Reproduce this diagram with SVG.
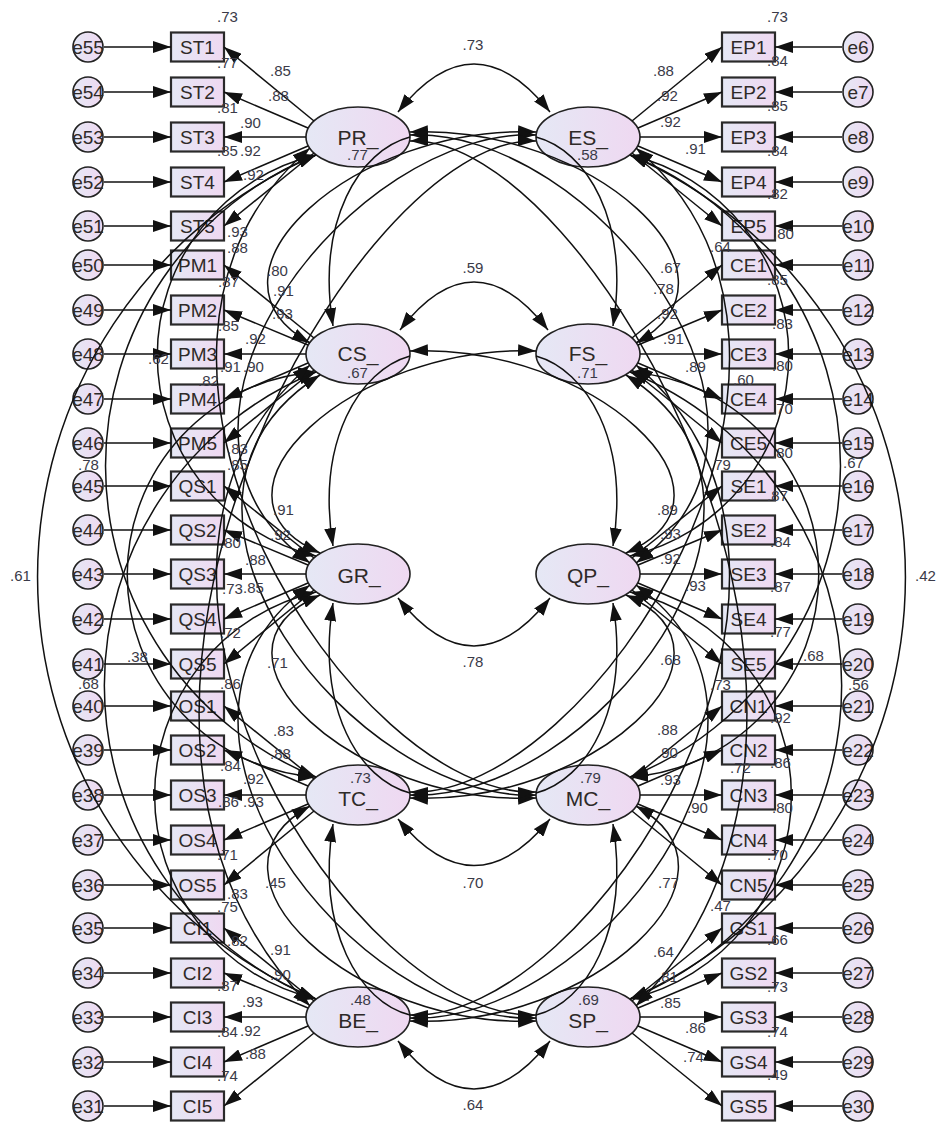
<svg xmlns="http://www.w3.org/2000/svg" width="940" height="1125" viewBox="0 0 940 1125">
<defs>
<linearGradient id="g" x1="0" y1="0" x2="1" y2="0"><stop offset="0" stop-color="#e5e8f5"/><stop offset="1" stop-color="#efd8f1"/></linearGradient>
<marker id="h" viewBox="0 0 18 12" refX="18" refY="6" markerWidth="18" markerHeight="12" markerUnits="userSpaceOnUse" orient="auto-start-reverse"><path d="M0,0L18,6L0,12z" fill="#111"/></marker>
<style>
.n{fill:url(#g);stroke:#222;stroke-width:1.6}
.b{fill:url(#g);stroke:#2a2a2a;stroke-width:2.2}
.t{font-family:"Liberation Sans",Arial,sans-serif;font-size:19px;fill:#2e2a28;text-anchor:middle}
.lt{font-size:21px}
.v{font-family:"Liberation Sans",Arial,sans-serif;font-size:15px;fill:#3a3a48}
.m{text-anchor:middle}
.c{fill:none;stroke:#111;stroke-width:1.5}
.s{marker-end:url(#h)}
.r{marker-start:url(#h)}
.d{marker-start:url(#h);marker-end:url(#h)}
</style>
</defs>
<rect width="940" height="1125" fill="#fff"/>

<g id="e55"><circle class="n" cx="88" cy="47" r="15"/><text class="t" x="88" y="54">e55</text></g>
<g id="e54"><circle class="n" cx="88" cy="92" r="15"/><text class="t" x="88" y="99">e54</text></g>
<g id="e53"><circle class="n" cx="88" cy="137" r="15"/><text class="t" x="88" y="144">e53</text></g>
<g id="e52"><circle class="n" cx="88" cy="182" r="15"/><text class="t" x="88" y="189">e52</text></g>
<g id="e51"><circle class="n" cx="88" cy="226" r="15"/><text class="t" x="88" y="233">e51</text></g>
<g id="e50"><circle class="n" cx="88" cy="265" r="15"/><text class="t" x="88" y="272">e50</text></g>
<g id="e49"><circle class="n" cx="88" cy="310" r="15"/><text class="t" x="88" y="317">e49</text></g>
<g id="e48"><circle class="n" cx="88" cy="354" r="15"/><text class="t" x="88" y="361">e48</text></g>
<g id="e47"><circle class="n" cx="88" cy="399" r="15"/><text class="t" x="88" y="406">e47</text></g>
<g id="e46"><circle class="n" cx="88" cy="443" r="15"/><text class="t" x="88" y="450">e46</text></g>
<g id="e45"><circle class="n" cx="88" cy="486" r="15"/><text class="t" x="88" y="493">e45</text></g>
<g id="e44"><circle class="n" cx="88" cy="530" r="15"/><text class="t" x="88" y="537">e44</text></g>
<g id="e43"><circle class="n" cx="88" cy="574" r="15"/><text class="t" x="88" y="581">e43</text></g>
<g id="e42"><circle class="n" cx="88" cy="619" r="15"/><text class="t" x="88" y="626">e42</text></g>
<g id="e41"><circle class="n" cx="88" cy="664" r="15"/><text class="t" x="88" y="671">e41</text></g>
<g id="e40"><circle class="n" cx="88" cy="706" r="15"/><text class="t" x="88" y="713">e40</text></g>
<g id="e39"><circle class="n" cx="88" cy="750" r="15"/><text class="t" x="88" y="757">e39</text></g>
<g id="e38"><circle class="n" cx="88" cy="795" r="15"/><text class="t" x="88" y="802">e38</text></g>
<g id="e37"><circle class="n" cx="88" cy="840" r="15"/><text class="t" x="88" y="847">e37</text></g>
<g id="e36"><circle class="n" cx="88" cy="885" r="15"/><text class="t" x="88" y="892">e36</text></g>
<g id="e35"><circle class="n" cx="88" cy="928" r="15"/><text class="t" x="88" y="935">e35</text></g>
<g id="e34"><circle class="n" cx="88" cy="973" r="15"/><text class="t" x="88" y="980">e34</text></g>
<g id="e33"><circle class="n" cx="88" cy="1017" r="15"/><text class="t" x="88" y="1024">e33</text></g>
<g id="e32"><circle class="n" cx="88" cy="1062" r="15"/><text class="t" x="88" y="1069">e32</text></g>
<g id="e31"><circle class="n" cx="88" cy="1106" r="15"/><text class="t" x="88" y="1113">e31</text></g>

<g id="e6"><circle class="n" cx="858" cy="47" r="15"/><text class="t" x="858" y="54">e6</text></g>
<g id="e7"><circle class="n" cx="858" cy="92" r="15"/><text class="t" x="858" y="99">e7</text></g>
<g id="e8"><circle class="n" cx="858" cy="137" r="15"/><text class="t" x="858" y="144">e8</text></g>
<g id="e9"><circle class="n" cx="858" cy="182" r="15"/><text class="t" x="858" y="189">e9</text></g>
<g id="e10"><circle class="n" cx="858" cy="226" r="15"/><text class="t" x="858" y="233">e10</text></g>
<g id="e11"><circle class="n" cx="858" cy="265" r="15"/><text class="t" x="858" y="272">e11</text></g>
<g id="e12"><circle class="n" cx="858" cy="310" r="15"/><text class="t" x="858" y="317">e12</text></g>
<g id="e13"><circle class="n" cx="858" cy="354" r="15"/><text class="t" x="858" y="361">e13</text></g>
<g id="e14"><circle class="n" cx="858" cy="399" r="15"/><text class="t" x="858" y="406">e14</text></g>
<g id="e15"><circle class="n" cx="858" cy="443" r="15"/><text class="t" x="858" y="450">e15</text></g>
<g id="e16"><circle class="n" cx="858" cy="486" r="15"/><text class="t" x="858" y="493">e16</text></g>
<g id="e17"><circle class="n" cx="858" cy="530" r="15"/><text class="t" x="858" y="537">e17</text></g>
<g id="e18"><circle class="n" cx="858" cy="574" r="15"/><text class="t" x="858" y="581">e18</text></g>
<g id="e19"><circle class="n" cx="858" cy="619" r="15"/><text class="t" x="858" y="626">e19</text></g>
<g id="e20"><circle class="n" cx="858" cy="664" r="15"/><text class="t" x="858" y="671">e20</text></g>
<g id="e21"><circle class="n" cx="858" cy="706" r="15"/><text class="t" x="858" y="713">e21</text></g>
<g id="e22"><circle class="n" cx="858" cy="750" r="15"/><text class="t" x="858" y="757">e22</text></g>
<g id="e23"><circle class="n" cx="858" cy="795" r="15"/><text class="t" x="858" y="802">e23</text></g>
<g id="e24"><circle class="n" cx="858" cy="840" r="15"/><text class="t" x="858" y="847">e24</text></g>
<g id="e25"><circle class="n" cx="858" cy="885" r="15"/><text class="t" x="858" y="892">e25</text></g>
<g id="e26"><circle class="n" cx="858" cy="928" r="15"/><text class="t" x="858" y="935">e26</text></g>
<g id="e27"><circle class="n" cx="858" cy="973" r="15"/><text class="t" x="858" y="980">e27</text></g>
<g id="e28"><circle class="n" cx="858" cy="1017" r="15"/><text class="t" x="858" y="1024">e28</text></g>
<g id="e29"><circle class="n" cx="858" cy="1062" r="15"/><text class="t" x="858" y="1069">e29</text></g>
<g id="e30"><circle class="n" cx="858" cy="1106" r="15"/><text class="t" x="858" y="1113">e30</text></g>

<g id="ST1"><rect class="b" x="171" y="32.5" width="53" height="29"/><text class="t" x="197.5" y="54">ST1</text></g>
<g id="ST2"><rect class="b" x="171" y="77.5" width="53" height="29"/><text class="t" x="197.5" y="99">ST2</text></g>
<g id="ST3"><rect class="b" x="171" y="122.5" width="53" height="29"/><text class="t" x="197.5" y="144">ST3</text></g>
<g id="ST4"><rect class="b" x="171" y="167.5" width="53" height="29"/><text class="t" x="197.5" y="189">ST4</text></g>
<g id="ST5"><rect class="b" x="171" y="211.5" width="53" height="29"/><text class="t" x="197.5" y="233">ST5</text></g>
<g id="PM1"><rect class="b" x="171" y="250.5" width="53" height="29"/><text class="t" x="197.5" y="272">PM1</text></g>
<g id="PM2"><rect class="b" x="171" y="295.5" width="53" height="29"/><text class="t" x="197.5" y="317">PM2</text></g>
<g id="PM3"><rect class="b" x="171" y="339.5" width="53" height="29"/><text class="t" x="197.5" y="361">PM3</text></g>
<g id="PM4"><rect class="b" x="171" y="384.5" width="53" height="29"/><text class="t" x="197.5" y="406">PM4</text></g>
<g id="PM5"><rect class="b" x="171" y="428.5" width="53" height="29"/><text class="t" x="197.5" y="450">PM5</text></g>
<g id="QS1"><rect class="b" x="171" y="471.5" width="53" height="29"/><text class="t" x="197.5" y="493">QS1</text></g>
<g id="QS2"><rect class="b" x="171" y="515.5" width="53" height="29"/><text class="t" x="197.5" y="537">QS2</text></g>
<g id="QS3"><rect class="b" x="171" y="559.5" width="53" height="29"/><text class="t" x="197.5" y="581">QS3</text></g>
<g id="QS4"><rect class="b" x="171" y="604.5" width="53" height="29"/><text class="t" x="197.5" y="626">QS4</text></g>
<g id="QS5"><rect class="b" x="171" y="649.5" width="53" height="29"/><text class="t" x="197.5" y="671">QS5</text></g>
<g id="OS1"><rect class="b" x="171" y="691.5" width="53" height="29"/><text class="t" x="197.5" y="713">OS1</text></g>
<g id="OS2"><rect class="b" x="171" y="735.5" width="53" height="29"/><text class="t" x="197.5" y="757">OS2</text></g>
<g id="OS3"><rect class="b" x="171" y="780.5" width="53" height="29"/><text class="t" x="197.5" y="802">OS3</text></g>
<g id="OS4"><rect class="b" x="171" y="825.5" width="53" height="29"/><text class="t" x="197.5" y="847">OS4</text></g>
<g id="OS5"><rect class="b" x="171" y="870.5" width="53" height="29"/><text class="t" x="197.5" y="892">OS5</text></g>
<g id="CI1"><rect class="b" x="171" y="913.5" width="53" height="29"/><text class="t" x="197.5" y="935">CI1</text></g>
<g id="CI2"><rect class="b" x="171" y="958.5" width="53" height="29"/><text class="t" x="197.5" y="980">CI2</text></g>
<g id="CI3"><rect class="b" x="171" y="1002.5" width="53" height="29"/><text class="t" x="197.5" y="1024">CI3</text></g>
<g id="CI4"><rect class="b" x="171" y="1047.5" width="53" height="29"/><text class="t" x="197.5" y="1069">CI4</text></g>
<g id="CI5"><rect class="b" x="171" y="1091.5" width="53" height="29"/><text class="t" x="197.5" y="1113">CI5</text></g>

<g id="EP1"><rect class="b" x="722" y="32.5" width="53" height="29"/><text class="t" x="748.5" y="54">EP1</text></g>
<g id="EP2"><rect class="b" x="722" y="77.5" width="53" height="29"/><text class="t" x="748.5" y="99">EP2</text></g>
<g id="EP3"><rect class="b" x="722" y="122.5" width="53" height="29"/><text class="t" x="748.5" y="144">EP3</text></g>
<g id="EP4"><rect class="b" x="722" y="167.5" width="53" height="29"/><text class="t" x="748.5" y="189">EP4</text></g>
<g id="EP5"><rect class="b" x="722" y="211.5" width="53" height="29"/><text class="t" x="748.5" y="233">EP5</text></g>
<g id="CE1"><rect class="b" x="722" y="250.5" width="53" height="29"/><text class="t" x="748.5" y="272">CE1</text></g>
<g id="CE2"><rect class="b" x="722" y="295.5" width="53" height="29"/><text class="t" x="748.5" y="317">CE2</text></g>
<g id="CE3"><rect class="b" x="722" y="339.5" width="53" height="29"/><text class="t" x="748.5" y="361">CE3</text></g>
<g id="CE4"><rect class="b" x="722" y="384.5" width="53" height="29"/><text class="t" x="748.5" y="406">CE4</text></g>
<g id="CE5"><rect class="b" x="722" y="428.5" width="53" height="29"/><text class="t" x="748.5" y="450">CE5</text></g>
<g id="SE1"><rect class="b" x="722" y="471.5" width="53" height="29"/><text class="t" x="748.5" y="493">SE1</text></g>
<g id="SE2"><rect class="b" x="722" y="515.5" width="53" height="29"/><text class="t" x="748.5" y="537">SE2</text></g>
<g id="SE3"><rect class="b" x="722" y="559.5" width="53" height="29"/><text class="t" x="748.5" y="581">SE3</text></g>
<g id="SE4"><rect class="b" x="722" y="604.5" width="53" height="29"/><text class="t" x="748.5" y="626">SE4</text></g>
<g id="SE5"><rect class="b" x="722" y="649.5" width="53" height="29"/><text class="t" x="748.5" y="671">SE5</text></g>
<g id="CN1"><rect class="b" x="722" y="691.5" width="53" height="29"/><text class="t" x="748.5" y="713">CN1</text></g>
<g id="CN2"><rect class="b" x="722" y="735.5" width="53" height="29"/><text class="t" x="748.5" y="757">CN2</text></g>
<g id="CN3"><rect class="b" x="722" y="780.5" width="53" height="29"/><text class="t" x="748.5" y="802">CN3</text></g>
<g id="CN4"><rect class="b" x="722" y="825.5" width="53" height="29"/><text class="t" x="748.5" y="847">CN4</text></g>
<g id="CN5"><rect class="b" x="722" y="870.5" width="53" height="29"/><text class="t" x="748.5" y="892">CN5</text></g>
<g id="GS1"><rect class="b" x="722" y="913.5" width="53" height="29"/><text class="t" x="748.5" y="935">GS1</text></g>
<g id="GS2"><rect class="b" x="722" y="958.5" width="53" height="29"/><text class="t" x="748.5" y="980">GS2</text></g>
<g id="GS3"><rect class="b" x="722" y="1002.5" width="53" height="29"/><text class="t" x="748.5" y="1024">GS3</text></g>
<g id="GS4"><rect class="b" x="722" y="1047.5" width="53" height="29"/><text class="t" x="748.5" y="1069">GS4</text></g>
<g id="GS5"><rect class="b" x="722" y="1091.5" width="53" height="29"/><text class="t" x="748.5" y="1113">GS5</text></g>

<g id="PR_"><ellipse class="n" cx="358" cy="137" rx="52" ry="30"/><text class="t lt" x="358" y="145">PR_</text><text class="v" x="347" y="160">.77</text></g>
<g id="ES_"><ellipse class="n" cx="588" cy="137" rx="52" ry="30"/><text class="t lt" x="588" y="145">ES_</text><text class="v" x="577" y="160">.58</text></g>
<g id="CS_"><ellipse class="n" cx="358" cy="354" rx="52" ry="30"/><text class="t lt" x="358" y="361">CS_</text><text class="v" x="347" y="378">.67</text></g>
<g id="FS_"><ellipse class="n" cx="588" cy="354" rx="52" ry="30"/><text class="t lt" x="588" y="361">FS_</text><text class="v" x="577" y="378">.71</text></g>
<g id="GR_"><ellipse class="n" cx="358" cy="574" rx="52" ry="30"/><text class="t lt" x="359" y="583">GR_</text></g>
<g id="QP_"><ellipse class="n" cx="588" cy="574" rx="52" ry="30"/><text class="t lt" x="588" y="583">QP_</text></g>
<g id="TC_"><ellipse class="n" cx="358" cy="795" rx="52" ry="30"/><text class="t lt" x="358" y="806">TC_</text><text class="v" x="350" y="783">.73</text></g>
<g id="MC_"><ellipse class="n" cx="588" cy="795" rx="52" ry="30"/><text class="t lt" x="588" y="806">MC_</text><text class="v" x="580" y="783">.79</text></g>
<g id="BE_"><ellipse class="n" cx="358" cy="1017" rx="52" ry="30"/><text class="t lt" x="358" y="1028">BE_</text><text class="v" x="350" y="1005">.48</text></g>
<g id="SP_"><ellipse class="n" cx="588" cy="1017" rx="52" ry="30"/><text class="t lt" x="588" y="1028">SP_</text><text class="v" x="578" y="1005">.69</text></g>

<g id="connectors" class="c">
<path class="s" d="M104,47H171"/><path class="s" d="M104,92H171"/><path class="s" d="M104,137H171"/><path class="s" d="M104,182H171"/><path class="s" d="M104,226H171"/>
<path class="s" d="M104,265H171"/><path class="s" d="M104,310H171"/><path class="s" d="M104,354H171"/><path class="s" d="M104,399H171"/><path class="s" d="M104,443H171"/>
<path class="s" d="M104,486H171"/><path class="s" d="M104,530H171"/><path class="s" d="M104,574H171"/><path class="s" d="M104,619H171"/><path class="s" d="M104,664H171"/>
<path class="s" d="M104,706H171"/><path class="s" d="M104,750H171"/><path class="s" d="M104,795H171"/><path class="s" d="M104,840H171"/><path class="s" d="M104,885H171"/>
<path class="s" d="M104,928H171"/><path class="s" d="M104,973H171"/><path class="s" d="M104,1017H171"/><path class="s" d="M104,1062H171"/><path class="s" d="M104,1106H171"/>
<path class="s" d="M842,47H775"/><path class="s" d="M842,92H775"/><path class="s" d="M842,137H775"/><path class="s" d="M842,182H775"/><path class="s" d="M842,226H775"/>
<path class="s" d="M842,265H775"/><path class="s" d="M842,310H775"/><path class="s" d="M842,354H775"/><path class="s" d="M842,399H775"/><path class="s" d="M842,443H775"/>
<path class="s" d="M842,486H775"/><path class="s" d="M842,530H775"/><path class="s" d="M842,574H775"/><path class="s" d="M842,619H775"/><path class="s" d="M842,664H775"/>
<path class="s" d="M842,706H775"/><path class="s" d="M842,750H775"/><path class="s" d="M842,795H775"/><path class="s" d="M842,840H775"/><path class="s" d="M842,885H775"/>
<path class="s" d="M842,928H775"/><path class="s" d="M842,973H775"/><path class="s" d="M842,1017H775"/><path class="s" d="M842,1062H775"/><path class="s" d="M842,1106H775"/>

<path class="s" d="M314,121L224,47"/><path class="s" d="M308,128L224,92"/><path class="s" d="M306,137L224,137"/><path class="s" d="M308,146L224,182"/><path class="s" d="M314,153L224,226"/>
<path class="s" d="M314,338L224,265"/><path class="s" d="M308,345L224,310"/><path class="s" d="M306,354L224,354"/><path class="s" d="M308,363L224,399"/><path class="s" d="M314,370L224,443"/>
<path class="s" d="M314,558L224,486"/><path class="s" d="M308,565L224,530"/><path class="s" d="M306,574L224,574"/><path class="s" d="M308,583L224,619"/><path class="s" d="M314,590L224,664"/>
<path class="s" d="M314,779L224,706"/><path class="s" d="M308,786L224,750"/><path class="s" d="M306,795L224,795"/><path class="s" d="M308,804L224,840"/><path class="s" d="M314,811L224,885"/>
<path class="s" d="M314,1001L224,928"/><path class="s" d="M308,1008L224,973"/><path class="s" d="M306,1017L224,1017"/><path class="s" d="M308,1026L224,1062"/><path class="s" d="M314,1033L224,1106"/>
<path class="s" d="M632,121L722,47"/><path class="s" d="M638,128L722,92"/><path class="s" d="M640,137L722,137"/><path class="s" d="M638,146L722,182"/><path class="s" d="M632,153L722,226"/>
<path class="s" d="M632,338L722,265"/><path class="s" d="M638,345L722,310"/><path class="s" d="M640,354L722,354"/><path class="s" d="M638,363L722,399"/><path class="s" d="M632,370L722,443"/>
<path class="s" d="M632,558L722,486"/><path class="s" d="M638,565L722,530"/><path class="s" d="M640,574L722,574"/><path class="s" d="M638,583L722,619"/><path class="s" d="M632,590L722,664"/>
<path class="s" d="M632,779L722,706"/><path class="s" d="M638,786L722,750"/><path class="s" d="M640,795L722,795"/><path class="s" d="M638,804L722,840"/><path class="s" d="M632,811L722,885"/>
<path class="s" d="M632,1001L722,928"/><path class="s" d="M638,1008L722,973"/><path class="s" d="M640,1017L722,1017"/><path class="s" d="M638,1026L722,1062"/><path class="s" d="M632,1033L722,1106"/>

<path class="d" d="M398,112Q474,16 550,112"/>
<path class="d" d="M400,330Q474,234 548,330"/>
<path class="d" d="M398,598Q474,694 550,598"/>
<path class="d" d="M398,819Q474,912 550,819"/>
<path class="d" d="M398,1041Q474,1137 550,1041"/>
<path class="s" d="M410,137C360,150 316,220 333,326"/>
<path class="s" d="M410,356C360,370 316,440 333,546"/>
<path class="r" d="M333,603C316,710 360,780 410,793"/>
<path class="r" d="M333,824C316,930 360,1003 410,1015"/>
<path class="s" d="M536,137C586,150 630,220 613,326"/>
<path class="s" d="M536,356C586,370 630,440 613,546"/>
<path class="r" d="M613,603C630,710 586,780 536,793"/>
<path class="r" d="M613,824C630,930 586,1003 536,1015"/>
<path class="d" d="M316,155A459,459 0 0 0 316,999"/>
<path class="d" d="M316,155A335,335 0 0 0 316,777"/>
<path class="d" d="M316,372A338,338 0 0 0 316,999"/>
<path class="d" d="M316,155A206,206 0 0 0 316,556"/>
<path class="d" d="M316,592A209,209 0 0 0 316,999"/>
<path class="d" d="M316,372A203,203 0 0 0 316,777"/>
<path class="d" d="M630,155A461,461 0 0 1 630,999"/>
<path class="d" d="M630,155A335,335 0 0 1 630,777"/>
<path class="d" d="M630,372A338,338 0 0 1 630,999"/>
<path class="d" d="M630,155A206,206 0 0 1 630,556"/>
<path class="d" d="M630,592A209,209 0 0 1 630,999"/>
<path class="d" d="M630,372A203,203 0 0 1 630,777"/>
<path class="d" d="M410,132C590,124 760,274 636,343"/>
<path class="d" d="M410,135C590,127 830,424 636,563"/>
<path class="d" d="M410,141C590,133 920,717 636,1006"/>
<path class="d" d="M410,351C590,343 760,494 626,553"/>
<path class="d" d="M410,1021C590,1029 760,875 636,806"/>
<path class="d" d="M410,1018C590,1026 830,724 636,585"/>
<path class="d" d="M410,1015C590,1023 880,574 636,365"/>
<path class="d" d="M410,798C590,806 760,654 626,595"/>
<path class="d" d="M410,795C590,803 830,504 626,375"/>
<path class="d" d="M410,792C590,800 880,357 636,148"/>
<path class="d" d="M536,132C356,124 186,274 310,343"/>
<path class="d" d="M536,135C356,127 116,424 310,563"/>
<path class="d" d="M536,141C356,133 26,717 310,1006"/>
<path class="d" d="M536,351C356,343 186,494 320,553"/>
<path class="d" d="M536,1021C356,1029 186,875 310,806"/>
<path class="d" d="M536,1018C356,1026 116,724 310,585"/>
<path class="d" d="M536,1015C356,1023 66,574 310,365"/>
<path class="d" d="M536,798C356,806 186,654 320,595"/>
<path class="d" d="M536,795C356,803 116,504 320,375"/>
<path class="d" d="M536,792C356,800 66,357 310,148"/>
</g>

<g id="labels" class="v">
<text x="217" y="22">.73</text><text x="217" y="68">.77</text><text x="270" y="76">.85</text><text x="268" y="101">.88</text>
<text x="217" y="113">.81</text><text x="240" y="128">.90</text><text x="217" y="156">.85</text><text x="240" y="156">.92</text>
<text x="243" y="180">.92</text><text x="227" y="237">.93</text><text x="227" y="253">.88</text><text x="267" y="276">.80</text>
<text x="218" y="287">.87</text><text x="273" y="296">.91</text><text x="272" y="319">.93</text><text x="218" y="331">.85</text>
<text x="245" y="344">.92</text><text x="148" y="364">.62</text><text x="220" y="372">.91</text><text x="243" y="372">.90</text>
<text x="198" y="386">.82</text><text x="227" y="454">.83</text><text x="227" y="470">.85</text><text x="78" y="470">.78</text>
<text x="273" y="515">.91</text><text x="270" y="540">.92</text><text x="220" y="548">.80</text><text x="10" y="581">.61</text>
<text x="245" y="565">.88</text><text x="222" y="594">.73</text><text x="243" y="593">.85</text><text x="220" y="638">.72</text>
<text x="127" y="662">.38</text><text x="267" y="668">.71</text><text x="78" y="689">.68</text><text x="220" y="689">.86</text>
<text x="273" y="736">.83</text><text x="270" y="759">.88</text><text x="220" y="771">.84</text><text x="243" y="784">.92</text>
<text x="218" y="807">.86</text><text x="243" y="807">.93</text><text x="217" y="860">.71</text><text x="265" y="888">.45</text>
<text x="227" y="899">.83</text><text x="217" y="912">.75</text><text x="227" y="946">.82</text><text x="270" y="955">.91</text>
<text x="270" y="980">.90</text><text x="217" y="991">.87</text><text x="242" y="1007">.93</text><text x="217" y="1037">.84</text>
<text x="240" y="1036">.92</text><text x="245" y="1059">.88</text><text x="217" y="1081">.74</text>
<text x="767" y="22">.73</text><text x="767" y="66">.84</text><text x="653" y="76">.88</text><text x="657" y="101">.92</text>
<text x="767" y="111">.85</text><text x="660" y="127">.92</text><text x="685" y="154">.91</text><text x="767" y="156">.84</text>
<text x="767" y="199">.82</text><text x="773" y="239">.80</text><text x="710" y="252">.64</text><text x="660" y="273">.67</text>
<text x="767" y="285">.85</text><text x="653" y="294">.78</text><text x="657" y="319">.92</text><text x="772" y="329">.83</text>
<text x="663" y="344">.91</text><text x="772" y="371">.80</text><text x="685" y="372">.89</text><text x="733" y="385">.60</text>
<text x="772" y="414">.70</text><text x="772" y="458">.80</text><text x="710" y="470">.79</text><text x="843" y="468">.67</text>
<text x="767" y="501">.87</text><text x="657" y="515">.89</text><text x="660" y="539">.93</text><text x="770" y="547">.84</text>
<text x="660" y="564">.92</text><text x="915" y="581">.42</text><text x="685" y="591">.93</text><text x="770" y="592">.87</text>
<text x="770" y="637">.77</text><text x="660" y="665">.68</text><text x="803" y="661">.68</text><text x="710" y="690">.73</text>
<text x="848" y="690">.56</text><text x="770" y="723">.92</text><text x="657" y="735">.88</text><text x="657" y="758">.90</text>
<text x="770" y="768">.86</text><text x="730" y="773">.72</text><text x="660" y="785">.93</text><text x="772" y="813">.80</text>
<text x="687" y="813">.90</text><text x="767" y="860">.70</text><text x="658" y="888">.77</text><text x="710" y="911">.47</text>
<text x="767" y="945">.66</text><text x="653" y="957">.64</text><text x="657" y="982">.81</text><text x="767" y="992">.73</text>
<text x="660" y="1008">.85</text><text x="685" y="1033">.86</text><text x="767" y="1037">.74</text><text x="683" y="1062">.74</text>
<text x="767" y="1080">.49</text>
<text class="m" x="473" y="50">.73</text><text class="m" x="473" y="273">.59</text><text class="m" x="473" y="667">.78</text>
<text class="m" x="473" y="888">.70</text><text class="m" x="473" y="1110">.64</text>
</g>
</svg>
